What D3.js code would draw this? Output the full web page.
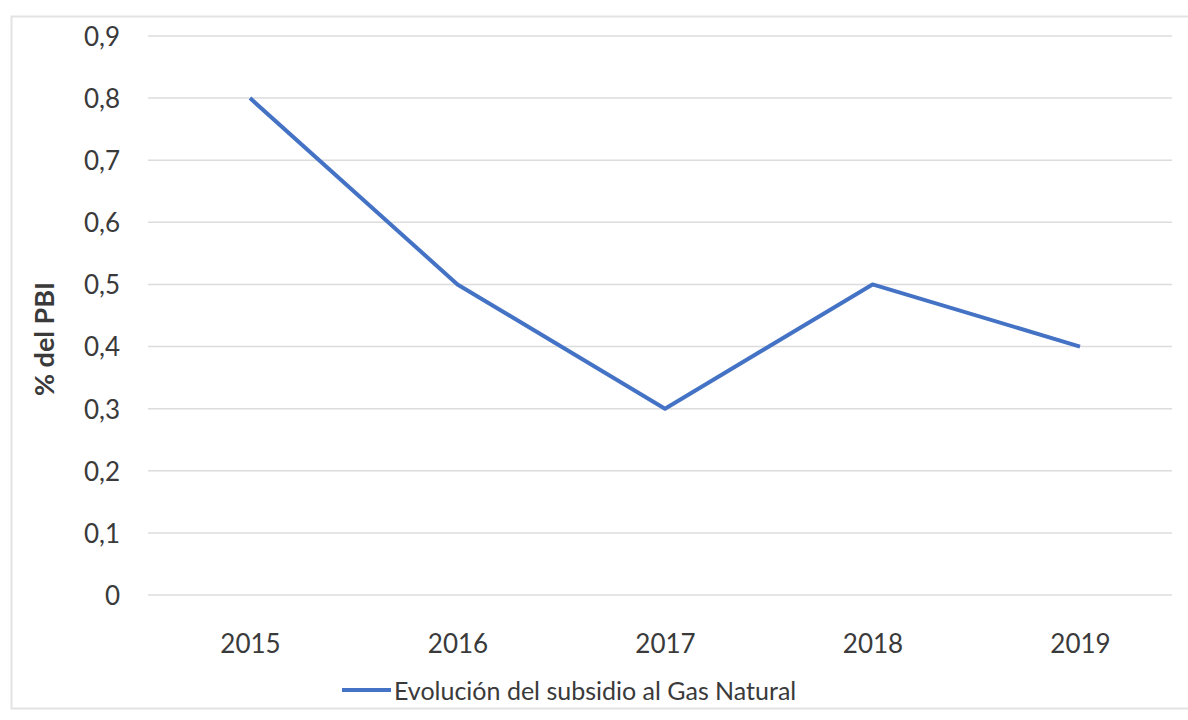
<!DOCTYPE html>
<html><head><meta charset="utf-8">
<script src="https://cdn.jsdelivr.net/npm/d3@7"></script>
<style>body{margin:0;background:#fff;} svg{display:block;}</style>
</head><body>
<script>
const categories = ["2015","2016","2017","2018","2019"];
const values = [0.8, 0.5, 0.3, 0.5, 0.4];
const yTicks = [0,0.1,0.2,0.3,0.4,0.5,0.6,0.7,0.8,0.9];
const seriesName = "Evolución del subsidio al Gas Natural";
const yTitle = "% del PBI";

const W = 1188, H = 720;
const svg = d3.select("body").append("svg").attr("width", W).attr("height", H);
const font = "Lato, 'Open Sans', sans-serif";
const textColor = "#3a3a3a";

// chart border
svg.append("rect").attr("x", 11.5).attr("y", 16.5).attr("width", 1190).attr("height", 692)
  .attr("fill", "#fff").attr("stroke", "#e3e3e3").attr("stroke-width", 2);

const x = d3.scalePoint().domain(categories).range([250, 1080]);
const y = d3.scaleLinear().domain([0, 0.9]).range([595, 36]);
const gridX0 = 148, gridX1 = 1172;

// gridlines
svg.append("g").selectAll("line").data(yTicks).join("line")
  .attr("x1", gridX0).attr("x2", gridX1)
  .attr("y1", d => y(d)).attr("y2", d => y(d))
  .attr("stroke", "#dcdcdc").attr("stroke-width", 1.5);

// y axis labels
const yAxis = d3.axisLeft(y).tickValues(yTicks).tickSize(0).tickPadding(0)
  .tickFormat(d => d === 0 ? "0" : d3.format(".1f")(d).replace(".", ","));
const gy = svg.append("g").attr("transform", "translate(120,0)").call(yAxis);
gy.select(".domain").remove();
gy.selectAll("text").attr("font-family", font).attr("font-size", 26).attr("fill", textColor)
  .attr("dy", "0.36em");

// x axis labels
const xAxis = d3.axisBottom(x).tickSize(0).tickPadding(0);
const gx = svg.append("g").attr("transform", "translate(0,653)").call(xAxis);
gx.select(".domain").remove();
gx.selectAll("text").attr("font-family", font).attr("font-size", 26).attr("fill", textColor)
  .attr("dy", "0");

// line
const line = d3.line().x((d, i) => x(categories[i])).y(d => y(d));
svg.append("path").datum(values).attr("d", line)
  .attr("fill", "none").attr("stroke", "#4472C4").attr("stroke-width", 4)
  .attr("stroke-linejoin", "round");

// y title
svg.append("text").attr("transform", "translate(54,339) rotate(-90)")
  .attr("text-anchor", "middle").attr("font-family", font).attr("font-weight", "bold")
  .attr("font-size", 27).attr("fill", textColor).text(yTitle);

// legend
svg.append("line").attr("x1", 342).attr("x2", 391).attr("y1", 690).attr("y2", 690)
  .attr("stroke", "#4472C4").attr("stroke-width", 4);
svg.append("text").attr("x", 394).attr("y", 700).attr("font-family", font)
  .attr("font-size", 25).attr("fill", textColor).text(seriesName);
</script>
</body></html>
